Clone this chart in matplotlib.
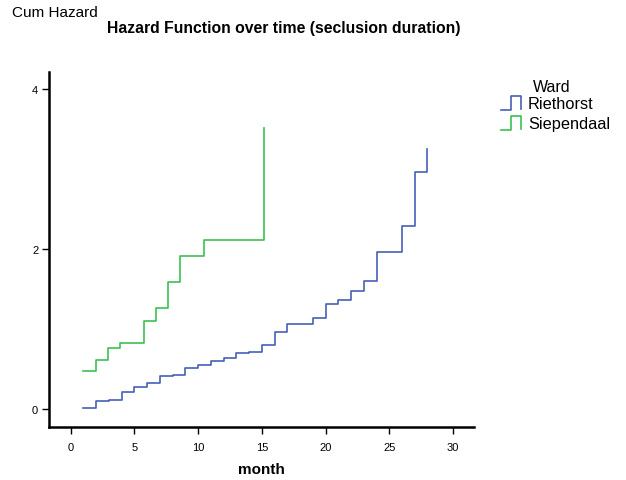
import matplotlib
matplotlib.use("Agg")
import matplotlib.pyplot as plt
from matplotlib.lines import Line2D

plt.rcParams['font.family'] = ['Liberation Sans', 'DejaVu Sans']

# cumulative hazard
riet_month = [1, 2, 3, 4, 5, 6, 7, 8, 9, 10, 11, 12, 13, 14, 15, 16, 17,
              19, 20, 21, 22, 23, 24, 26, 27, 28]
riet_hazard = [0.02, 0.10, 0.11, 0.22, 0.28, 0.33, 0.41, 0.425, 0.51, 0.55,
               0.60, 0.64, 0.70, 0.72, 0.80, 0.96, 1.07,
               1.14, 1.32, 1.36, 1.48, 1.60, 1.97, 2.29, 2.97, 3.25]

siep_month = [1, 2, 2.9, 3.85, 5.75, 6.7, 7.6, 8.6, 10.45, 15.2]
siep_hazard = [0.48, 0.62, 0.77, 0.83, 1.10, 1.26, 1.59, 1.91, 2.12, 3.51]

wards = ['Riethorst', 'Siependaal']
colors = ['#4660b8', '#3cc150']

x_ticks = [0, 5, 10, 15, 20, 25, 30]
y_ticks = [0, 2, 4]

fig = plt.figure(figsize=(6.26, 4.81), dpi=100)
W, H = 626, 481
ax = fig.add_axes([49.3 / W, 1 - 427.7 / H, (474 - 49.3) / W, (427.7 - 72.7) / H])

ax.step(riet_month, riet_hazard, where='post', color=colors[0], lw=1.2)
ax.step(siep_month, siep_hazard, where='post', color=colors[1], lw=1.2)

ax.set_xlim(-1.68, 31.65)
ax.set_ylim(-0.22, 4.22)
ax.set_xticks(x_ticks)
ax.set_yticks(y_ticks)
ax.tick_params(labelsize=8, length=5, width=1, direction='out')
ax.tick_params(axis='x', pad=6)
ax.tick_params(axis='y', pad=3)
for s in ['top', 'right']:
    ax.spines[s].set_visible(False)
for s in ['left', 'bottom']:
    ax.spines[s].set_linewidth(1.8)

# x axis title, centred under the axis
fig.text(261 / W, 1 - 470 / H, 'month', fontsize=11, fontweight='bold',
         ha='center', va='center')

fig.text(12 / W, 1 - 13 / H, 'Cum Hazard', fontsize=11, va='center', ha='left')
fig.text(107 / W, 1 - 28 / H, 'Hazard Function over time (seclusion duration)',
         fontsize=11.3, fontweight='bold', va='center', ha='left')

# legend with step shaped keys
fig.text(552 / W, 1 - 88 / H, 'Ward', fontsize=11.5, ha='center', va='center')
for i, (name, c) in enumerate(zip(wards, colors)):
    yc = 105 + 20 * i
    xs = [501, 511, 511, 521, 521]
    ys = [yc + 6, yc + 6, yc - 8, yc - 8, yc + 5]
    fig.add_artist(Line2D([x / W for x in xs], [1 - y / H for y in ys],
                          transform=fig.transFigure, color=c, lw=1.2))
    fig.text(528 / W, 1 - yc / H, name, fontsize=11.8, ha='left', va='center')

fig.savefig('out.png', dpi=100)
